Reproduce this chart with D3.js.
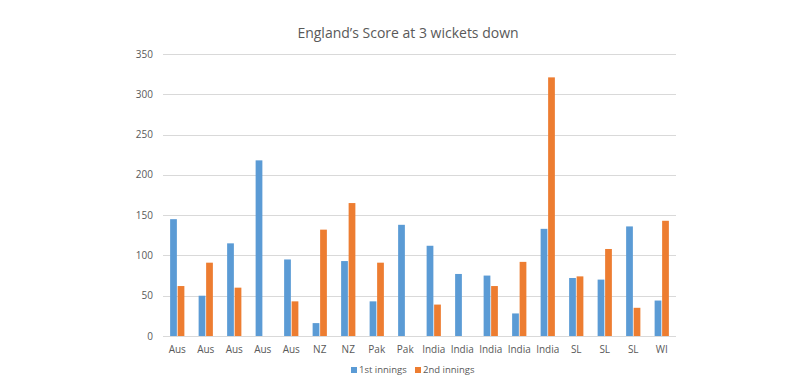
<!DOCTYPE html>
<html>
<head>
<meta charset="utf-8">
<script src="https://cdn.jsdelivr.net/npm/d3@7"></script>
<style>
  body { margin: 0; background: #fff; }
  svg text { font-family: "Open Sans", "DejaVu Sans", sans-serif; fill: #595959; }
</style>
</head>
<body>
<svg id="chart" width="800" height="390"></svg>
<script>
// chart data
const categories = ["Aus", "Aus", "Aus", "Aus", "Aus", "NZ", "NZ", "Pak", "Pak", "India",
                    "India", "India", "India", "India", "SL", "SL", "SL", "WI"];
const firstInnings = [145, 50, 115, 218, 95, 16, 93, 43, 138, 112, 77, 75, 28, 133, 72, 70, 136, 44];
const secondInnings = [62, 91, 60, null, 43, 132, 165, 91, null, 39, null, 62, 92, 321, 74, 108, 35, 143];
const seriesNames = ["1st innings", "2nd innings"];
const yTicks = [0, 50, 100, 150, 200, 250, 300, 350];

const colors = ["#5B9BD5", "#ED7D31"];

const svg = d3.select("#chart");
const plotLeft = 163, plotRight = 676, plotTop = 54, plotBottom = 336;

let x0 = d3.scaleBand()
    .domain(d3.range(categories.length))
    .range([plotLeft, plotRight])
    .paddingInner(0.5)
    .paddingOuter(0.25);

let x1 = d3.scaleBand()
    .domain([0, 1])
    .range([0, x0.bandwidth()])
    .paddingInner(0.1);

let y = d3.scaleLinear()
    .domain([0, 350])
    .range([plotBottom, plotTop]);

// gridlines
svg.append("g")
    .selectAll("line")
    .data(yTicks)
    .enter()
    .append("line")
    .attr("x1", plotLeft)
    .attr("x2", plotRight)
    .attr("y1", d => Math.round(y(d)) + 0.5)
    .attr("y2", d => Math.round(y(d)) + 0.5)
    .attr("stroke", "#d9d9d9")
    .attr("stroke-width", 1);

// y labels
svg.append("g")
    .selectAll("text")
    .data(yTicks)
    .enter()
    .append("text")
    .attr("x", 153)
    .attr("y", d => y(d))
    .attr("dy", "0.35em")
    .attr("text-anchor", "end")
    .style("font-size", "10px")
    .text(d => d);

// bars
let rows = categories.map((c, i) => ({i: i, vals: [firstInnings[i], secondInnings[i]]}));

let groups = svg.append("g")
    .selectAll("g")
    .data(rows)
    .enter()
    .append("g")
    .attr("transform", d => `translate(${x0(d.i)},0)`);

groups.selectAll("rect")
    .data(d => d.vals.map((v, k) => ({k: k, v: v})).filter(d => d.v != null))
    .enter()
    .append("rect")
    .attr("x", d => x1(d.k))
    .attr("width", x1.bandwidth())
    .attr("y", d => y(d.v))
    .attr("height", d => y(0) - y(d.v))
    .attr("fill", d => colors[d.k]);

// x labels
svg.append("g")
    .selectAll("text")
    .data(categories)
    .enter()
    .append("text")
    .attr("x", (d, i) => x0(i) + x0.bandwidth() / 2)
    .attr("y", 353)
    .attr("text-anchor", "middle")
    .style("font-size", "10px")
    .text(d => d);

// title
svg.append("text")
    .attr("x", 408)
    .attr("y", 38)
    .attr("text-anchor", "middle")
    .style("font-size", "14px")
    .text("England\u2019s Score at 3 wickets down");

// legend
let legendX = [351, 415];
let legend = svg.append("g")
    .selectAll("g")
    .data(seriesNames)
    .enter()
    .append("g")
    .attr("transform", (d, i) => `translate(${legendX[i]},370)`);

legend.append("rect")
    .attr("x", 0)
    .attr("y", -3)
    .attr("width", 6)
    .attr("height", 6)
    .attr("fill", (d, i) => colors[i]);

legend.append("text")
    .attr("x", 8)
    .attr("y", 0)
    .attr("dy", "0.35em")
    .style("font-size", "9.5px")
    .text(d => d);
</script>
</body>
</html>
